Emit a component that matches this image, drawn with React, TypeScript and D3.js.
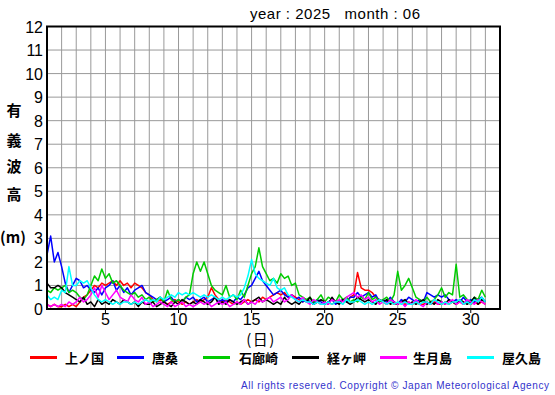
import React from "react";
import * as d3 from "d3";

const titleText = "year : 2025   month : 06";
const yTicks = [0, 1, 2, 3, 4, 5, 6, 7, 8, 9, 10, 11, 12];
const xTickLabels = [5, 10, 15, 20, 25, 30];
const yLabelChars = ["有", "義", "波", "高"];
const stationNames = ["上ノ国", "唐桑", "石廊崎", "経ヶ岬", "生月島", "屋久島"];
const stationColors = ["#ff0000", "#0000ff", "#00cc00", "#000000", "#ff00ff", "#00ffff"];

// values every 6 hours from June 1 00:00 to July 1 00:00
const kaminokuni = [
  0.2, 0.1, 0.2, 0.1, 0.1, 0.2, 0.1, 0.2, 0.1, 0.3, 0.5, 0.6, 0.8, 1.0, 0.9, 1.1,
  1.0, 1.1, 1.2, 1.0, 1.2, 1.0, 1.1, 0.9, 1.1, 1.0, 0.9, 0.7, 0.6, 0.4, 0.3, 0.4,
  0.3, 0.2, 0.3, 0.4, 0.3, 0.2, 0.3, 0.2, 0.3, 0.4, 0.3, 0.4, 0.5, 0.9, 0.6, 0.4,
  0.3, 0.4, 0.3, 0.2, 0.3, 0.2, 0.3, 0.4, 0.3, 0.4, 0.3, 0.5, 0.4, 0.5, 0.6, 0.7,
  0.6, 0.7, 0.5, 0.6, 0.5, 0.4, 0.3, 0.4, 0.3, 0.2, 0.3, 0.2, 0.2, 0.3, 0.2, 0.3,
  0.3, 0.4, 0.3, 0.5, 0.6, 1.55, 0.9, 0.8, 0.8, 0.7, 0.5, 0.4, 0.3, 0.2, 0.3, 0.2,
  0.2, 0.3, 0.2, 0.3, 0.2, 0.3, 0.2, 0.2, 0.3, 0.2, 0.3, 0.2, 0.2, 0.3, 0.2, 0.3,
  0.2, 0.3, 0.2, 0.3, 0.2, 0.3, 0.2, 0.3, 0.2,
];
const karakuwa = [
  2.3, 3.1, 2.0, 2.4, 1.8, 1.1, 0.7, 1.0, 1.3, 1.2, 0.9, 1.0, 0.8, 0.7, 0.9, 0.6,
  0.9, 1.0, 1.2, 0.8, 1.0, 0.7, 0.9, 0.6, 0.8, 0.9, 1.0, 0.7, 0.6, 0.5, 0.4, 0.5,
  0.3, 0.4, 0.5, 0.3, 0.4, 0.3, 0.5, 0.4, 0.5, 0.3, 0.4, 0.5, 0.3, 0.4, 0.5, 0.3,
  0.4, 0.3, 0.4, 0.3, 0.5, 0.4, 0.6, 0.9, 1.0, 1.3, 1.6, 1.2, 1.0, 0.8, 0.6, 0.7,
  0.8, 0.6, 0.5, 0.6, 0.4, 0.5, 0.3, 0.4, 0.3, 0.2, 0.4, 0.3, 0.2, 0.3, 0.4, 0.2,
  0.3, 0.4, 0.3, 0.5, 0.5, 0.7, 0.5, 0.6, 0.7, 0.5, 0.6, 0.3, 0.4, 0.3, 0.5, 0.3,
  0.2, 0.4, 0.3, 0.5, 0.4, 0.3, 0.4, 0.3, 0.7, 0.6, 0.5, 0.6, 0.5, 0.6, 0.4, 0.3,
  0.4, 0.3, 0.5, 0.3, 0.4, 0.3, 0.4, 0.5, 0.3,
];
const irozaki = [
  0.8, 0.7, 0.9, 0.8, 0.9, 1.0, 0.7, 0.8, 0.7, 0.5, 0.4, 0.6, 1.0, 1.4, 1.2, 1.7,
  1.3, 1.5, 1.1, 1.2, 1.0, 0.8, 0.7, 0.6, 0.7, 0.5, 0.6, 0.4, 0.5, 0.3, 0.4, 0.5,
  0.3, 0.8, 0.4, 0.3, 0.4, 0.3, 0.5, 0.6, 1.5, 2.0, 1.6, 2.0, 1.5, 1.0, 0.8, 0.7,
  0.6, 1.0, 0.5, 0.6, 0.4, 0.8, 0.5, 1.0, 1.5, 1.8, 2.6, 1.8, 1.5, 1.2, 1.3, 1.1,
  1.5, 1.3, 1.4, 1.0, 1.1, 0.6, 0.5, 0.4, 0.5, 0.3, 0.4, 0.6, 0.3, 0.5, 0.4, 0.3,
  0.6, 0.4, 0.5, 0.3, 0.4, 0.3, 0.5, 0.4, 0.7, 0.4, 0.5, 0.3, 0.4, 0.5, 0.3, 0.6,
  1.6, 0.8, 1.0, 1.3, 0.9, 0.5, 0.4, 0.3, 0.5, 0.3, 0.4, 0.6, 0.9, 0.5, 0.7, 0.6,
  1.9, 0.5, 0.6, 0.4, 0.3, 0.5, 0.4, 0.8, 0.5,
];
const kyogamisaki = [
  1.1, 0.9, 0.9, 1.0, 0.9, 0.7, 0.6, 0.5, 0.4, 0.3, 0.5, 0.2, 0.3, 0.1, 0.4, 0.2,
  0.3, 0.2, 0.4, 0.3, 0.2, 0.4, 0.3, 0.2, 0.3, 0.1, 0.3, 0.2, 0.2, 0.3, 0.1, 0.2,
  0.3, 0.2, 0.1, 0.3, 0.2, 0.4, 0.3, 0.2, 0.3, 0.2, 0.4, 0.3, 0.2, 0.3, 0.5, 0.2,
  0.3, 0.2, 0.4, 0.3, 0.2, 0.3, 0.4, 0.2, 0.3, 0.4, 0.5, 0.3, 0.4, 0.3, 0.2, 0.3,
  0.2, 0.5, 0.3, 0.2, 0.3, 0.2, 0.4, 0.3, 0.5, 0.2, 0.3, 0.4, 0.3, 0.2, 0.5, 0.3,
  0.2, 0.4, 0.3, 0.2, 0.3, 0.5, 0.4, 0.3, 0.4, 0.3, 0.2, 0.4, 0.3, 0.4, 0.2, 0.3,
  0.2, 0.3, 0.4, 0.2, 0.3, 0.2, 0.3, 0.4, 0.2, 0.3, 0.2, 0.4, 0.3, 0.2, 0.4, 0.3,
  0.2, 0.4, 0.3, 0.2, 0.3, 0.5, 0.2, 0.4, 0.3,
];
const ikitsukishima = [
  0.2, 0.1, 0.2, 0.1, 0.2, 0.1, 0.3, 0.2, 0.3, 0.5, 0.3, 0.4, 0.6, 0.9, 0.5, 1.0,
  0.7, 0.4, 0.6, 0.8, 0.5, 0.4, 0.3, 0.6, 0.4, 0.3, 0.5, 0.2, 0.3, 0.1, 0.2, 0.3,
  0.2, 0.1, 0.3, 0.1, 0.2, 0.3, 0.1, 0.2, 0.1, 0.2, 0.3, 0.2, 0.3, 0.1, 0.2, 0.3,
  0.2, 0.3, 0.1, 0.2, 0.3, 0.2, 0.4, 0.2, 0.3, 0.2, 0.4, 0.3, 0.4, 0.5, 0.3, 0.4,
  0.5, 0.3, 0.4, 0.6, 0.4, 0.3, 0.5, 0.3, 0.2, 0.4, 0.3, 0.2, 0.3, 0.2, 0.4, 0.3,
  0.4, 0.3, 0.5, 0.6, 0.7, 0.5, 0.6, 0.4, 0.5, 0.3, 0.4, 0.2, 0.3, 0.2, 0.4, 0.3,
  0.2, 0.3, 0.1, 0.3, 0.2, 0.4, 0.2, 0.1, 0.3, 0.2, 0.4, 0.2, 0.3, 0.2, 0.3, 0.4,
  0.2, 0.3, 0.2, 0.4, 0.3, 0.2, 0.4, 0.3, 0.2,
];
const yakushima = [
  0.6, 0.4, 0.5, 0.4, 0.8, 0.7, 1.8, 1.0, 1.0, 1.2, 1.1, 1.2, 0.9, 0.6, 0.4, 0.3,
  0.4, 0.3, 0.2, 0.3, 0.2, 0.3, 0.3, 0.2, 0.3, 0.2, 0.3, 0.4, 0.3, 0.4, 0.3, 0.5,
  0.4, 0.5, 0.6, 0.5, 0.7, 0.6, 0.7, 0.6, 0.7, 0.6, 0.5, 0.6, 0.5, 0.6, 0.5, 0.4,
  0.5, 0.4, 0.5, 0.6, 0.5, 0.6, 0.9, 1.4, 2.1, 1.5, 1.3, 1.2, 1.1, 1.0, 1.3, 0.9,
  0.8, 0.9, 0.6, 0.5, 0.4, 0.3, 0.4, 0.3, 0.3, 0.2, 0.3, 0.2, 0.2, 0.3, 0.2, 0.3,
  0.3, 0.2, 0.4, 0.3, 0.3, 0.4, 0.3, 0.2, 0.3, 0.2, 0.3, 0.4, 0.3, 0.2, 0.3, 0.2,
  0.3, 0.2, 0.3, 0.2, 0.2, 0.3, 0.2, 0.3, 0.3, 0.2, 0.4, 0.3, 0.2, 0.3, 0.2, 0.3,
  0.3, 0.4, 0.2, 0.3, 0.2, 0.4, 0.3, 0.5, 0.3,
];

const seriesValues = [kaminokuni, karakuwa, irozaki, kyogamisaki, ikitsukishima, yakushima];
const drawOrder = [0, 1, 2, 3, 4, 5];

const W = 555;
const H = 395;
const left = 47;
const right = 500;
const top = 26.5;
const bottom = 309;

export default function App() {
  const x = d3.scaleLinear().domain([1, 32]).range([left, right]);
  const y = d3.scaleLinear().domain([0, 12]).range([bottom, top]);
  const line = d3
    .line<number>()
    .x((_, i) => x(1 + i / 4))
    .y((d) => y(d));
  const days = d3.range(2, 32);
  const legendX = [30, 117, 203, 292, 380, 467];
  const legendTextX = [65, 152, 239, 327, 413, 502];
  const font = "'Liberation Sans', Arial, sans-serif";
  const jfont = "'Noto Sans CJK JP', sans-serif";
  return (
    <svg
      width={W}
      height={H}
      style={{ position: "absolute", left: 0, top: 0, background: "#fff" }}
    >
      <rect x={0} y={0} width={W} height={H} fill="#fff" />
      <text
        x={250}
        y={19}
        fontFamily={font}
        fontSize={15}
        style={{ whiteSpace: "pre" }}
        textLength={170}
        lengthAdjust="spacing"
        fill="#000"
      >
        {titleText}
      </text>
      {/* grid */}
      {days.map((d) => (
        <line key={"v" + d} x1={x(d)} x2={x(d)} y1={top} y2={bottom} stroke="#999" strokeWidth={1} />
      ))}
      {yTicks.slice(1, -1).map((v) => (
        <line key={"h" + v} x1={left} x2={right} y1={y(v)} y2={y(v)} stroke="#999" strokeWidth={1} />
      ))}
      {/* series */}
      {drawOrder.map((k) => (
        <path
          key={"s" + k}
          d={line(seriesValues[k]) || ""}
          fill="none"
          stroke={stationColors[k]}
          strokeWidth={1.5}
          strokeLinejoin="round"
        />
      ))}
      {/* frame */}
      <rect x={left} y={top} width={right - left} height={bottom - top} fill="none" stroke="#000" strokeWidth={2} />
      {/* y ticks */}
      {yTicks.map((v) => (
        <text
          key={"yt" + v}
          x={43}
          y={y(v) + 6}
          textAnchor="end"
          fontFamily={font}
          fontSize={16}
          fill="#000"
        >
          {v}
        </text>
      ))}
      {/* x ticks */}
      {xTickLabels.map((d) => (
        <g key={"xt" + d}>
          <line x1={x(d)} x2={x(d)} y1={bottom} y2={bottom + 4} stroke="#000" strokeWidth={1} />
          <text x={x(d)} y={325} textAnchor="middle" fontFamily={font} fontSize={16} fill="#000">
            {d}
          </text>
        </g>
      ))}
      {/* y label */}
      {yLabelChars.map((c, i) => (
        <text
          key={"yl" + i}
          x={14}
          y={[116, 146, 172, 200][i]}
          textAnchor="middle"
          fontFamily={jfont}
          fontWeight="bold"
          fontSize={15}
          fill="#000"
        >
          {c}
        </text>
      ))}
      <text x={13} y={243} textAnchor="middle" fontFamily={jfont} fontWeight="bold" fontSize={15} fill="#000">
        (m)
      </text>
      <text x={261} y={345} textAnchor="middle" fontFamily={jfont} fontSize={15} letterSpacing={1.5} fill="#000">
        (日)
      </text>
      {/* legend */}
      {stationNames.map((n, i) => (
        <g key={"lg" + i}>
          <line
            x1={legendX[i]}
            x2={legendX[i] + 27}
            y1={357.5}
            y2={357.5}
            stroke={stationColors[i]}
            strokeWidth={3}
          />
          <text x={legendTextX[i]} y={363} fontFamily={jfont} fontWeight="bold" fontSize={13} fill="#000">
            {n}
          </text>
        </g>
      ))}
      <text
        x={241}
        y={389}
        fontFamily={font}
        fontSize={10}
        fill="#3333cc"
        textLength={308}
        lengthAdjust="spacing"
      >
        All rights reserved. Copyright © Japan Meteorological Agency
      </text>
    </svg>
  );
}
